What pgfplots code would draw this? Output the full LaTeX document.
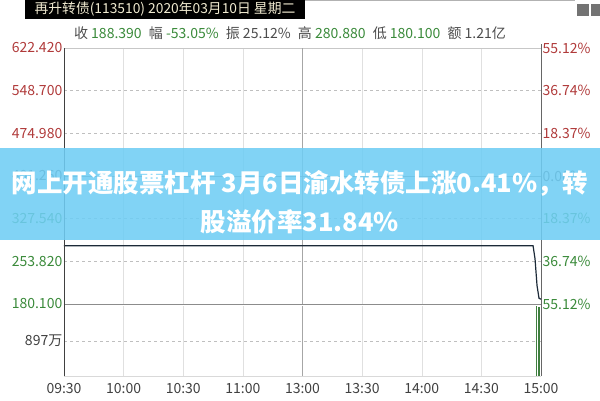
\documentclass[border=0pt]{standalone}
\usepackage{fontspec}
\setmainfont{Noto Sans CJK SC}
\usepackage{pgfplots}
\pgfplotsset{compat=1.18}
\definecolor{pred}{HTML}{B03A3A}
\definecolor{pgreen}{HTML}{3A8A3A}
\definecolor{pgray}{HTML}{555555}
\definecolor{pline}{HTML}{1C2A38}
\definecolor{banner}{HTML}{6FCDF4}
\definecolor{hdr}{HTML}{F0EAD0}
\definecolor{vbar}{HTML}{3F7F3F}

\begin{document}
\begin{tikzpicture}[x=1pt,y=1pt]
\path[use as bounding box] (0,0) rectangle (600,400);
\pgfplotsset{
  common/.style={
    scale only axis, width=477pt, xmin=0, xmax=240,
    axis line style={draw=none}, major tick length=0pt,
    tick label style={font=\fontsize{14}{15}\selectfont, inner sep=1.5pt},
  }
}
% price panel
\begin{axis}[common, at={(64pt,96pt)}, anchor=south west, height=256pt,
  ymin=180.1, ymax=622.42,
  xtick={0,30,...,240}, xticklabel=\empty,
  ytick={180.1,253.82,327.54,401.26,474.98,548.7,622.42},
  yticklabels={\textcolor{pgreen}{180.100},\textcolor{pgreen}{253.820},\textcolor{pgreen}{327.540},
    \textcolor{pgray}{401.260},\textcolor{pred}{474.980},\textcolor{pred}{548.700},\textcolor{pred}{622.420}},
  xmajorgrids, ymajorgrids,
  x grid style={black!12}, y grid style={black!25, dashed},
]
\draw[black!22] (axis cs:0,622.42) -- (axis cs:240,622.42);
\draw[black!35] (axis cs:120,180.1) -- (axis cs:120,622.42);
\draw[black!45] (axis cs:0,401.26) -- (axis cs:240,401.26);
\draw[black!45] (axis cs:0,180.1) -- (axis cs:240,180.1);
\addplot[pline, line width=1.2pt] coordinates {
  (0,280.88) (236,280.88) (237,258) (238,212) (239,190) (240,188.39)
};
\end{axis}
% right-hand percent labels
\begin{axis}[common, at={(64pt,96pt)}, anchor=south west, height=256pt,
  ymin=180.1, ymax=622.42, xtick=\empty, yticklabel pos=right,
  ytick={180.1,253.82,327.54,401.26,474.98,548.7,622.42},
  yticklabels={\textcolor{pgreen}{55.12\%},\textcolor{pgreen}{36.74\%},\textcolor{pgreen}{18.37\%},
    \textcolor{pgray}{0.00\%},\textcolor{pred}{18.37\%},\textcolor{pred}{36.74\%},\textcolor{pred}{55.12\%}},
]
\end{axis}
% volume panel
\begin{axis}[common, at={(64pt,24pt)}, anchor=south west, height=70pt,
  ymin=0, ymax=1794,
  xtick={0,30,...,240},
  xticklabels={09:30,10:00,10:30,11:00,13:00,13:30,14:00,14:30,15:00},
  xticklabel style={text=black!75, yshift=-6pt},
  ytick={897}, yticklabels={\textcolor{black!75}{897万}},
  xmajorgrids, ymajorgrids,
  x grid style={black!12}, y grid style={black!25, dashed},
]
\draw[black!15] (axis cs:0,0) -- (axis cs:240,0);
\draw[black!35] (axis cs:120,0) -- (axis cs:120,1794);
\addplot[ycomb, black!75, line width=1.5pt] coordinates {(0,660)};
\addplot[ycomb, vbar, line width=1.4pt] coordinates {(237.6,1790) (239,1770)};
\node[anchor=west, inner sep=1.5pt, text=black!75, font=\fontsize{14}{15}\selectfont] at (rel axis cs:1,0.5) {897万};
\end{axis}
% axis frame lines
\draw[black!75, line width=1pt] (64,24) -- (64,352);
\draw[black!60, line width=0.9pt] (541,24) -- (541,356);
% header
\draw[black!30] (305,399.5) -- (575,399.5);
\fill[black] (25,381) rectangle (305,400);
\node[text=hdr, font=\fontsize{13.8}{14}\selectfont] at (165,390.5) {再升转债(113510) 2020年03月10日 星期二};
\fill[black!55] (577,384) rectangle (589,396);
\fill[black!55] (591,384) rectangle (600,396);
\node[font=\fontsize{14}{15}\selectfont, text=black!70] at (290,367)
 {收 \textcolor{pgreen}{188.390}\hspace{4pt} 幅 \textcolor{pgreen}{-53.05\%}\hspace{4pt} 振 25.12\%\hspace{4pt} 高 \textcolor{pgreen}{280.880}\hspace{4pt} 低 \textcolor{pgreen}{180.100}\hspace{4pt} 额 1.21亿};
% banner
\fill[banner, fill opacity=0.88] (0,160) rectangle (600,252);
\node[text=white, font=\fontsize{25.5}{28}\selectfont\bfseries] at (300,217) {网上开通股票杠杆 3月6日渝水转债上涨0.41\%，转};
\node[text=white, font=\fontsize{25.5}{28}\selectfont\bfseries] at (300,178) {股溢价率31.84\%};
\end{tikzpicture}
\end{document}
